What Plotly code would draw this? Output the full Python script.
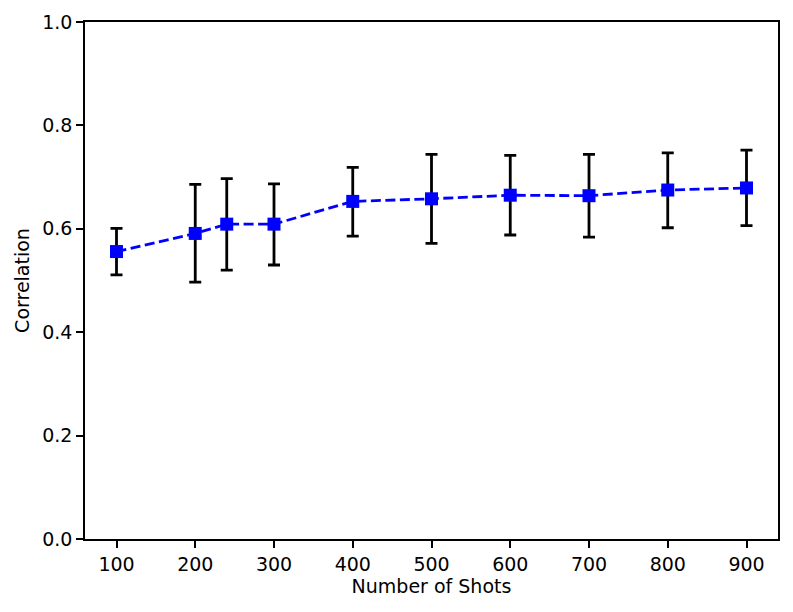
import plotly.graph_objects as go

shots = [100, 200, 240, 300, 400, 500, 600, 700, 800, 900]
correlation = [0.556, 0.591, 0.609, 0.609, 0.653, 0.658, 0.665, 0.664, 0.675, 0.679]
err_plus = [0.045, 0.095, 0.088, 0.078, 0.066, 0.086, 0.077, 0.080, 0.072, 0.073]
err_minus = [0.045, 0.094, 0.089, 0.079, 0.067, 0.086, 0.077, 0.080, 0.073, 0.073]
x_ticks = [100, 200, 300, 400, 500, 600, 700, 800, 900]
y_ticks = [0.0, 0.2, 0.4, 0.6, 0.8, 1.0]

fig = go.Figure()
fig.add_trace(go.Scatter(
    x=shots, y=correlation,
    mode="lines+markers",
    line=dict(color="#0000ff", width=2.8, dash="10px,4.5px"),
    marker=dict(symbol="square", size=13, color="#0000ff"),
    error_y=dict(type="data", symmetric=False, array=err_plus, arrayminus=err_minus,
                 color="black", thickness=2.8, width=6),
    showlegend=False,
))

axis_common = dict(
    showline=True, linecolor="black", linewidth=1.5, mirror=True,
    ticks="outside", ticklen=7, tickwidth=1.5, tickcolor="black",
    showgrid=False, zeroline=False, automargin=False,
    tickfont=dict(family="DejaVu Sans", size=19, color="black"),
)

fig.update_layout(
    width=785, height=604,
    margin=dict(l=77, r=15, t=14, b=73),
    paper_bgcolor="white", plot_bgcolor="white",
    font=dict(family="DejaVu Sans", size=19, color="black"),
    xaxis=dict(range=[60, 940], tickvals=x_ticks,
               title=dict(text="Number of Shots", font=dict(size=19), standoff=4),
               **axis_common),
    yaxis=dict(range=[0, 1], tickvals=y_ticks, tickformat=".1f",
               title=dict(text="Correlation", font=dict(size=19), standoff=8),
               **axis_common),
)

fig.write_html("out.html")
